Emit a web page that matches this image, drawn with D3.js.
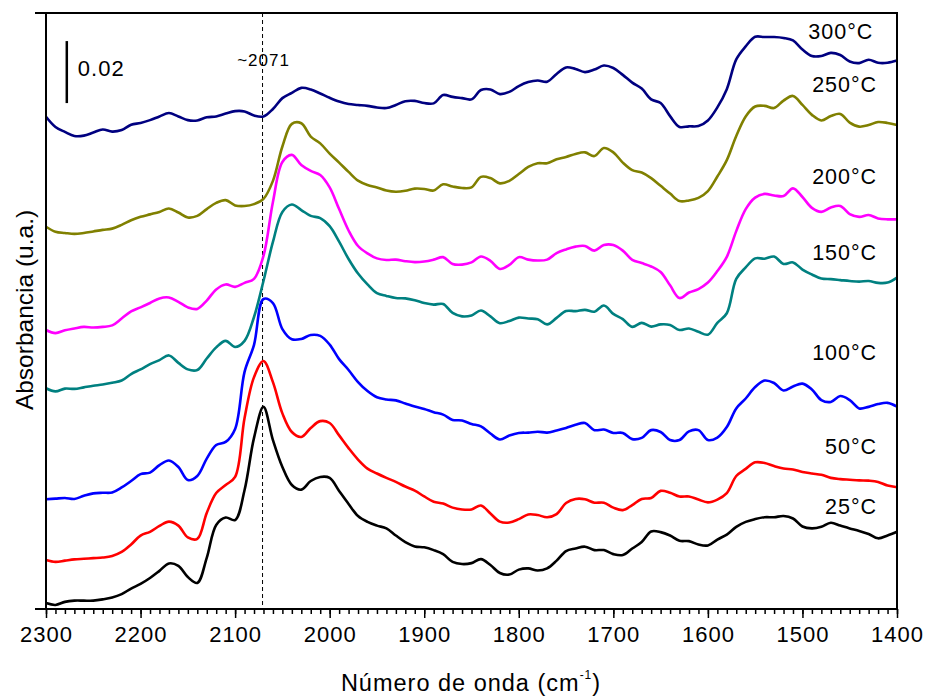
<!DOCTYPE html>
<html>
<head>
<meta charset="utf-8">
<script src="https://cdn.jsdelivr.net/npm/d3@7"></script>
<style>
    body { margin: 0; background: #fff; }
    svg text { font-family: "Liberation Sans", Arial, sans-serif; fill: #000; }
</style>
</head>
<body>
<div id="chart"></div>
<script>

// Wavenumber grid (cm-1), one reading every 10 cm-1
var wavenumbers = d3.range(2300, 1399, -10);

// Absorbance, in thousandths (stacked as drawn)
var t25 = [
    1.9, 1.3, 2.3, 2.7, 2.7, 2.7, 3.1, 3.7, 4.8, 6.6,
    8.1, 10.0, 12.3, 14.7, 13.9, 10.3, 8.4, 16.5, 27.1, 29.5,
    28.7, 38.4, 55.2, 65.2, 54.5, 45.8, 40.0, 38.5, 41.3, 42.6,
    42.3, 38.1, 33.9, 30.0, 28.1, 26.9, 26.0, 23.7, 21.6, 20.2,
    19.9, 19.0, 17.7, 15.2, 14.5, 14.8, 16.1, 14.2, 11.6, 11.1,
    12.7, 13.1, 12.4, 13.1, 15.6, 18.7, 19.5, 20.1, 19.0, 19.0,
    17.7, 17.4, 19.5, 21.6, 25.0, 24.8, 23.7, 22.0, 21.9, 20.8,
    20.5, 22.4, 24.0, 26.5, 28.1, 29.0, 29.6, 29.6, 30.0, 29.2,
    26.6, 26.0, 26.5, 27.8, 26.9, 26.0, 25.2, 24.2, 22.8, 23.7,
    24.9
];
var t50 = [
    15.8, 15.2, 15.6, 16.0, 16.2, 16.4, 16.6, 17.1, 18.4, 20.8,
    23.7, 24.9, 26.8, 28.2, 26.9, 23.1, 22.6, 31.0, 37.4, 40.0,
    42.6, 61.6, 74.8, 80.0, 73.2, 63.1, 57.1, 55.5, 58.4, 60.6,
    60.0, 56.0, 51.9, 48.2, 45.3, 43.7, 42.3, 41.0, 39.5, 38.2,
    36.3, 34.6, 34.0, 32.7, 32.1, 32.1, 33.4, 30.8, 28.2, 27.9,
    29.0, 30.5, 30.3, 29.6, 30.6, 34.2, 35.5, 35.4, 34.3, 34.3,
    32.7, 31.9, 33.5, 35.5, 35.8, 38.1, 37.5, 36.3, 36.3, 35.3,
    34.4, 35.3, 37.4, 42.9, 45.2, 47.3, 47.1, 46.1, 45.3, 45.0,
    44.2, 43.7, 43.3, 42.3, 41.9, 41.7, 41.5, 41.4, 41.0, 39.8,
    39.3
];
var t100 = [
    35.4, 35.6, 35.8, 35.5, 36.5, 37.3, 37.5, 37.6, 39.2, 41.3,
    43.5, 44.0, 46.4, 47.9, 45.8, 41.6, 42.9, 48.5, 52.9, 53.9,
    58.1, 76.5, 85.2, 100.0, 98.7, 90.3, 87.0, 87.1, 88.4, 88.1,
    85.3, 80.6, 77.1, 73.2, 70.3, 68.3, 67.6, 67.3, 66.3, 65.3,
    64.5, 63.5, 62.7, 61.0, 60.8, 59.7, 58.9, 56.6, 54.7, 56.0,
    56.8, 56.9, 57.2, 56.9, 57.6, 58.4, 59.4, 60.0, 57.7, 57.9,
    56.8, 56.8, 54.8, 55.2, 57.7, 57.1, 54.5, 54.5, 57.3, 57.7,
    54.5, 55.3, 58.7, 64.7, 67.9, 71.6, 73.7, 72.9, 70.5, 71.8,
    72.7, 70.8, 67.4, 66.8, 68.7, 67.4, 64.7, 65.2, 66.1, 66.5,
    65.3
];
var t150 = [
    71.2, 70.2, 71.1, 71.0, 71.5, 72.0, 72.4, 73.0, 73.7, 75.8,
    77.3, 79.0, 80.3, 81.8, 79.4, 77.3, 77.1, 80.8, 84.4, 86.5,
    84.5, 86.5, 94.2, 105.8, 118.4, 128.1, 130.5, 128.7, 126.8, 126.1,
    123.5, 118.5, 112.9, 108.2, 104.7, 101.9, 101.0, 100.3, 100.2, 99.6,
    98.7, 98.2, 98.4, 95.5, 94.4, 94.7, 96.3, 94.4, 92.2, 92.9,
    94.0, 93.7, 93.5, 91.8, 93.9, 96.1, 96.1, 96.5, 95.9, 97.9,
    95.2, 93.5, 91.0, 92.3, 91.1, 91.8, 91.6, 90.0, 90.5, 89.4,
    88.5, 92.3, 95.4, 106.5, 110.2, 113.1, 113.0, 113.7, 111.3, 111.8,
    109.5, 107.9, 106.6, 106.4, 106.1, 105.8, 105.6, 105.8, 105.2, 105.3,
    106.9
];
var t200 = [
    90.0, 89.0, 89.9, 90.5, 91.0, 90.8, 91.0, 91.5, 93.7, 96.0,
    97.3, 98.7, 100.2, 100.5, 99.1, 97.3, 96.8, 99.5, 103.1, 104.7,
    103.9, 105.2, 106.5, 113.9, 131.3, 144.2, 146.5, 143.2, 141.3, 140.0,
    136.0, 129.0, 122.1, 117.1, 114.7, 113.1, 112.6, 112.7, 112.2, 111.9,
    112.1, 112.7, 113.5, 111.3, 111.1, 111.8, 113.7, 112.3, 109.7, 111.0,
    113.5, 112.7, 112.4, 112.7, 114.8, 116.0, 116.9, 117.1, 115.6, 117.4,
    117.4, 115.6, 112.6, 111.6, 110.5, 108.7, 104.4, 100.3, 102.1, 103.2,
    105.3, 109.0, 113.6, 121.9, 129.0, 132.7, 133.9, 133.4, 133.2, 135.7,
    132.9, 129.4, 128.1, 129.5, 130.0, 127.4, 126.5, 127.1, 126.0, 125.7,
    125.7
];
var t250 = [
    123.3, 121.7, 121.3, 121.0, 121.3, 121.8, 122.3, 122.7, 123.9, 125.4,
    126.5, 127.3, 128.1, 129.2, 127.9, 126.3, 126.8, 129.0, 131.0, 131.9,
    130.2, 130.0, 130.6, 132.3, 138.1, 149.2, 156.5, 156.7, 152.4, 150.2,
    146.9, 144.0, 141.0, 138.2, 136.8, 136.0, 135.0, 134.6, 134.9, 135.6,
    135.5, 135.0, 137.0, 136.3, 135.8, 136.0, 139.4, 139.0, 137.3, 138.1,
    140.3, 142.6, 143.8, 143.8, 145.1, 145.8, 146.8, 147.3, 146.1, 148.7,
    147.3, 144.0, 141.6, 140.8, 139.0, 136.5, 134.0, 131.6, 131.8, 132.6,
    134.8, 139.5, 144.8, 152.6, 158.9, 162.1, 162.3, 161.6, 164.0, 165.5,
    162.6, 159.4, 157.6, 159.0, 159.7, 156.9, 155.6, 156.1, 157.1, 156.8,
    156.1
];
var t300 = [
    158.8, 155.5, 153.9, 152.6, 152.7, 153.7, 154.7, 154.0, 154.5, 156.2,
    156.8, 157.7, 158.9, 160.0, 158.9, 157.7, 157.6, 158.6, 158.9, 159.8,
    160.6, 160.5, 159.2, 158.9, 161.3, 164.8, 166.5, 168.1, 167.6, 166.3,
    164.9, 163.7, 162.9, 162.6, 162.3, 161.8, 161.6, 162.6, 163.8, 163.9,
    163.2, 163.1, 165.8, 165.2, 164.8, 164.4, 167.4, 167.6, 166.1, 166.8,
    168.7, 170.0, 170.5, 170.1, 172.6, 174.7, 174.2, 173.2, 174.0, 175.3,
    174.5, 172.3, 169.8, 167.9, 164.4, 163.2, 159.0, 155.5, 155.7, 155.8,
    157.6, 161.8, 167.7, 177.3, 181.5, 184.6, 184.5, 184.5, 184.2, 183.4,
    180.5, 178.4, 178.4, 179.4, 178.7, 176.6, 176.1, 177.2, 176.2, 176.2,
    176.9
];

var seriesNames = ["25°C", "50°C", "100°C", "150°C", "200°C", "250°C", "300°C"];
var seriesValues = [t25, t50, t100, t150, t200, t250, t300];
var seriesColors = ["#000000", "#ff0000", "#0000ff", "#008080", "#ff00ff", "#808000", "#000080"];

// Where each temperature label sits: [wavenumber, absorbance x1000 at baseline]
var labelSpots = [
    [1421, 30.6], [1421, 50.0], [1421, 80.3], [1421, 112.6],
    [1421, 137.1], [1421, 166.9], [1425, 183.9]
];

var xTicks = d3.range(2300, 1399, -100);
var xMinorTicks = d3.range(2300, 1399, -10);
var markerWn = 2071;      // dashed guide line
var barWn = 2278;         // 0.02 scale bar
var barBottom = 163.2;    // absorbance x1000
var barSize = 20;         // 0.02

// Canvas
var width = 930,
    height = 698,
    plot = {left: 46, right: 897, top: 13, bottom: 609};

var svg = d3.select("#chart").append("svg")
    .attr("width", width)
    .attr("height", height);

// Scales (x runs from high to low wavenumber)
var x = d3.scaleLinear().domain([2300, 1400]).range([plot.left, plot.right]);
var y = d3.scaleLinear().domain([0, (plot.bottom - plot.top) / 3.1])
    .range([plot.bottom, plot.top]);

// Dashed guide at ~2071
svg.append("line")
    .attr("x1", x(markerWn)).attr("x2", x(markerWn))
    .attr("y1", plot.top).attr("y2", plot.bottom)
    .attr("stroke", "#000")
    .attr("stroke-width", 1)
    .attr("stroke-dasharray", "4,3");

svg.append("text")
    .attr("x", x(markerWn) + 1)
    .attr("y", 66)
    .attr("text-anchor", "middle")
    .attr("font-size", 17)
    .attr("letter-spacing", 1)
    .text("~2071");

// Spectra
var line = d3.line()
    .x(function(d, i) { return x(wavenumbers[i]); })
    .y(function(d) { return y(d); })
    .curve(d3.curveCatmullRom.alpha(0.5));

svg.selectAll("path.spectrum")
    .data(seriesValues)
    .enter().append("path")
        .attr("class", "spectrum")
        .attr("fill", "none")
        .attr("stroke", function(d, i) { return seriesColors[i]; })
        .attr("stroke-width", 2.6)
        .attr("stroke-linejoin", "round")
        .attr("d", line);

// Temperature labels
svg.selectAll("text.temp")
    .data(seriesNames)
    .enter().append("text")
        .attr("class", "temp")
        .attr("x", function(d, i) { return x(labelSpots[i][0]); })
        .attr("y", function(d, i) { return y(labelSpots[i][1]); })
        .attr("text-anchor", "end")
        .attr("font-size", 21.5)
        .attr("letter-spacing", 1)
        .text(function(d) { return d; });

// Scale bar
svg.append("line")
    .attr("x1", x(barWn)).attr("x2", x(barWn))
    .attr("y1", y(barBottom)).attr("y2", y(barBottom + barSize))
    .attr("stroke", "#000")
    .attr("stroke-width", 2.5);

svg.append("text")
    .attr("x", x(barWn) + 11)
    .attr("y", 76)
    .attr("font-size", 22)
    .attr("letter-spacing", 1)
    .text("0.02");

// Bottom axis: major and minor ticks
var xAxis = d3.axisBottom(x)
    .tickValues(xTicks)
    .tickSize(9)
    .tickPadding(8)
    .tickFormat(d3.format("d"));

var xMinor = d3.axisBottom(x)
    .tickValues(xMinorTicks)
    .tickSize(5)
    .tickFormat("");

var gMinor = svg.append("g")
    .attr("transform", "translate(0," + plot.bottom + ")")
    .call(xMinor);
gMinor.select(".domain").remove();
gMinor.selectAll(".tick line").attr("stroke-width", 1.5);

var gx = svg.append("g")
    .attr("transform", "translate(0," + plot.bottom + ")")
    .call(xAxis);
gx.select(".domain").remove();
gx.selectAll(".tick line").attr("stroke-width", 1.5);
gx.selectAll(".tick text")
    .attr("font-size", 22)
    .attr("letter-spacing", 1)
    .attr("font-family", "Liberation Sans, Arial, sans-serif");

// Frame
var frame = svg.append("g").attr("stroke", "#000").attr("stroke-width", 2);
frame.append("line").attr("x1", 35).attr("x2", plot.right + 1)
    .attr("y1", plot.top).attr("y2", plot.top);
frame.append("line").attr("x1", 35).attr("x2", plot.right + 1)
    .attr("y1", plot.bottom).attr("y2", plot.bottom);
frame.append("line").attr("x1", plot.left).attr("x2", plot.left)
    .attr("y1", plot.top).attr("y2", plot.bottom);
frame.append("line").attr("x1", plot.right).attr("x2", plot.right)
    .attr("y1", plot.top).attr("y2", plot.bottom);

// Axis titles
var xTitle = svg.append("text")
    .attr("x", 471)
    .attr("y", 691)
    .attr("text-anchor", "middle")
    .attr("font-size", 23.5)
    .attr("letter-spacing", 1);
xTitle.append("tspan").text("Número de onda (cm");
xTitle.append("tspan").attr("font-size", 12).attr("dy", -12).text("-1");
xTitle.append("tspan").attr("dy", 12).text(")");

svg.append("text")
    .attr("transform", "translate(33,310) rotate(-90)")
    .attr("text-anchor", "middle")
    .attr("font-size", 24.5)
    .text("Absorbancia (u.a.)");

</script>
</body>
</html>
